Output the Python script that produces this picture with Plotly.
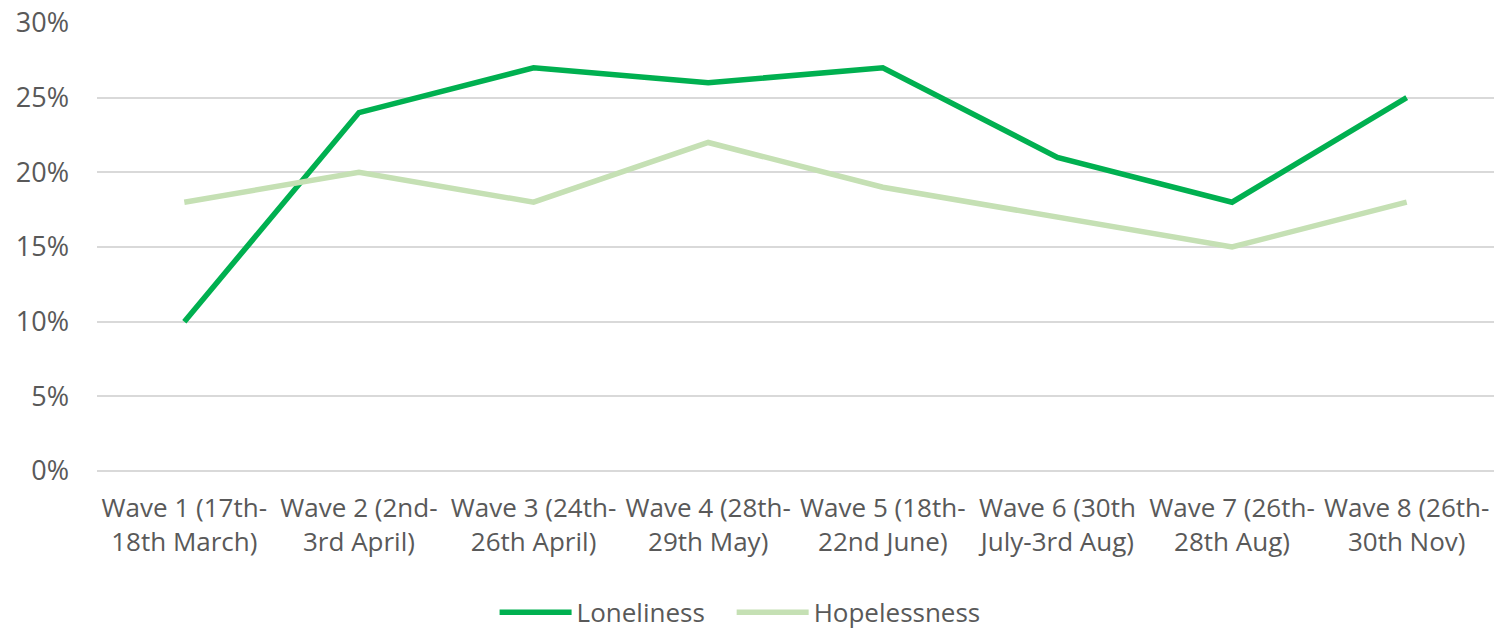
import plotly.graph_objects as go

categories = [
    "Wave 1 (17th-<br>18th March)",
    "Wave 2 (2nd-<br>3rd April)",
    "Wave 3 (24th-<br>26th April)",
    "Wave 4 (28th-<br>29th May)",
    "Wave 5 (18th-<br>22nd June)",
    "Wave 6 (30th<br>July-3rd Aug)",
    "Wave 7 (26th-<br>28th Aug)",
    "Wave 8 (26th-<br>30th Nov)",
]
loneliness = [0.10, 0.24, 0.27, 0.26, 0.27, 0.21, 0.18, 0.25]
hopelessness = [0.18, 0.20, 0.18, 0.22, 0.19, 0.17, 0.15, 0.18]
y_ticks = [0, 0.05, 0.10, 0.15, 0.20, 0.25, 0.30]

fig = go.Figure()
fig.add_trace(go.Scatter(x=categories, y=loneliness, mode="lines", name="Loneliness",
                         line=dict(color="#00B050", width=5.5), legend="legend"))
fig.add_trace(go.Scatter(x=categories, y=hopelessness, mode="lines", name="Hopelessness",
                         line=dict(color="#C5E0B4", width=5.5), legend="legend2"))

legend_common = dict(orientation="h", y=-0.3155, yanchor="middle", xanchor="left",
                     font=dict(size=26, color="#595959"), itemwidth=72,
                     bgcolor="rgba(0,0,0,0)")

fig.update_layout(
    width=1494, height=630,
    margin=dict(l=97, r=0, t=23, b=159, autoexpand=False),
    paper_bgcolor="white", plot_bgcolor="white",
    font=dict(family="Open Sans", color="#595959", size=22),
    showlegend=True,
    legend=dict(x=0.2846, **legend_common),
    legend2=dict(x=0.4543, **legend_common),
    xaxis=dict(type="category", range=[-0.5, 7.5], showgrid=False, showline=False,
               ticks="", tickfont=dict(size=26), tickangle=0, ticklabelstandoff=19),
    yaxis=dict(range=[0, 0.30], tickvals=y_ticks, tickformat=".0%", showgrid=True,
               gridcolor="#D9D9D9", gridwidth=1.5, zeroline=True, zerolinecolor="#D9D9D9",
               zerolinewidth=1.5, showline=False, ticks="", tickfont=dict(size=27),
               ticklabelstandoff=27, ticklabeloverflow="allow"),
)

fig.write_html("out.html", config={"displayModeBar": False},
               post_script="document.body.style.margin='0';")
